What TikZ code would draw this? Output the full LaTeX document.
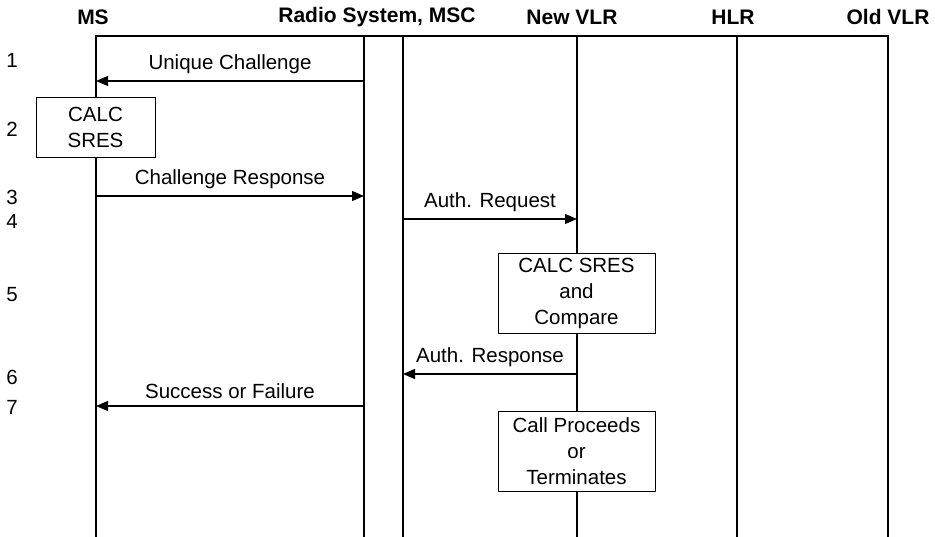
\documentclass[tikz,border=0pt]{standalone}
\usepackage{fontspec}
\setmainfont{Liberation Sans}
\usetikzlibrary{arrows.meta}
\tikzset{
  lifeline/.style={line width=2.4pt},
  msg/.style={line width=1.3pt,-{Triangle[length=12pt,width=10pt]}},
  procbox/.style={draw,line width=0.9pt,fill=white,align=center,inner sep=0pt},
  head/.style={font=\fontsize{21}{26}\selectfont\bfseries},
  rownum/.style={anchor=center}
}
\begin{document}
\begin{tikzpicture}[x=1pt,y=-1pt,font=\fontsize{20.5}{26}\selectfont]
\useasboundingbox (0,0) rectangle (935,537);
% lifelines
\coordinate (ms) at (96,36);
\coordinate (rs) at (364,36);
\coordinate (msc) at (403,36);
\coordinate (nvlr) at (577,36);
\coordinate (hlr) at (737,36);
\coordinate (ovlr) at (888,36);
\coordinate (bot) at (0,537);
\draw[lifeline] (ms |- bot) -- (ms) -- (ovlr) -- (ovlr |- bot);
\draw[lifeline] (rs) -- (rs |- bot);
\draw[lifeline] (msc) -- (msc |- bot);
\draw[lifeline] (nvlr) -- (nvlr |- bot);
\draw[lifeline] (hlr) -- (hlr |- bot);

\node[head] (hms) at (93,17) {MS};
\node[head] (hrs) at (377,17) {Radio System, MSC};
\node[head] (hnvlr) at (572,17) {New VLR};
\node[head] (hhlr) at (733,17) {HLR};
\node[head] (hovlr) at (888,17) {Old VLR};

% step numbers
\node[rownum] (n1) at (12,60) {1};
\node[rownum] (n2) at (12,129) {2};
\node[rownum] (n3) at (12,197) {3};
\node[rownum] (n4) at (12,221) {4};
\node[rownum] (n5) at (12,295) {5};
\node[rownum] (n6) at (12,377) {6};
\node[rownum] (n7) at (12,407) {7};

% messages
\coordinate (r1) at (0,81);
\coordinate (r3) at (0,196);
\coordinate (r4) at (0,219);
\coordinate (r6) at (0,374);
\coordinate (r7) at (0,406);
\draw[msg] (rs |- r1) -- node[above=3pt] (l1) {Unique Challenge} (ms |- r1);
\draw[msg] (ms |- r3) -- node[above=3pt] (l3) {Challenge Response} (rs |- r3);
\draw[msg] (msc |- r4) -- node[above=3pt] (l4) {Auth. Request} (nvlr |- r4);
\draw[msg] (nvlr |- r6) -- node[above=3pt] (l6) {Auth. Response} (msc |- r6);
\draw[msg] (rs |- r7) -- node[above=3pt] (l7) {Success or Failure} (ms |- r7);

% processing boxes
\node[procbox,minimum width=119pt,minimum height=60pt] (calc) at (95.5,127) {CALC\\SRES};
\node[procbox,minimum width=157pt,minimum height=80pt] (cmp) at (576.5,293) {CALC SRES\\and\\Compare};
\node[procbox,minimum width=157pt,minimum height=80pt] (call) at (576.5,451) {Call Proceeds\\or\\Terminates};
\end{tikzpicture}
\end{document}
